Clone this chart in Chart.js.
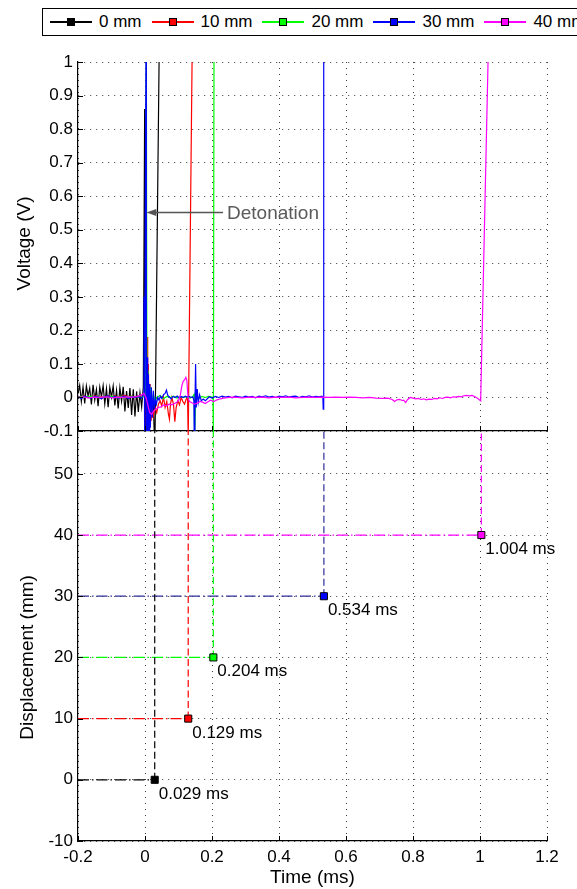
<!DOCTYPE html>
<html><head><meta charset="utf-8">
<script src="https://cdn.jsdelivr.net/npm/chart.js@4.4.0/dist/chart.umd.min.js"></script>
<style>
html,body{margin:0;padding:0;background:#fff;overflow:hidden;width:577px;height:889px;}
#wrap{position:relative;width:577px;height:889px;overflow:hidden;}
#c1{position:absolute;left:0;top:0;}
#c2{position:absolute;left:0;top:400px;}
#legend{position:absolute;left:42px;top:8px;height:28px;width:640px;border:1.3px solid #000;box-sizing:border-box;display:flex;align-items:center;padding-left:7px;font-family:'Liberation Sans',Arial,sans-serif;font-size:17px;color:#000;background:#fff;}
.item{display:flex;align-items:center;margin-right:10px;}
.ln{position:relative;width:42px;height:1.4px;}
.mk{position:absolute;left:17px;top:-3px;width:6px;height:6px;border:1px solid #000;box-sizing:content-box;}
.tx{margin-left:7px;white-space:nowrap;}
</style></head>
<body><div id="wrap">
<canvas id="c1" width="577" height="460"></canvas>
<canvas id="c2" width="577" height="489"></canvas>
<div id="legend"></div>
</div>
<script>
// ---------- data ----------
const seriesNames = ['0 mm','10 mm','20 mm','30 mm','40 mm'];
const seriesColors = ['#000000','#ff0000','#00ff00','#0000ff','#ff00ff'];
const guideColors = ['#000000','#ff0000','#00ff00','#2e2e96','#ff00ff'];

const voltTickValues = [-0.1,0,0.1,0.2,0.3,0.4,0.5,0.6,0.7,0.8,0.9,1];
const voltTickLabels = ['-0.1','0','0.1','0.2','0.3','0.4','0.5','0.6','0.7','0.8','0.9','1'];
const timeTickValues = [-0.2,0,0.2,0.4,0.6,0.8,1,1.2];
const timeTickLabels = ['-0.2','0','0.2','0.4','0.6','0.8','1','1.2'];
const dispTickValues = [-10,0,10,20,30,40,50];
const dispTickLabels = ['-10','0','10','20','30','40','50'];

// voltage traces (time in ms, voltage in V)
const t0mm = [-0.200,-0.195,-0.190,-0.185,-0.180,-0.175,-0.170,-0.165,-0.160,-0.155,-0.150,-0.145,-0.140,-0.135,-0.130,-0.125,-0.120,-0.115,-0.110,-0.105,-0.100,-0.095,-0.090,-0.085,-0.080,-0.075,-0.070,-0.065,-0.060,-0.055,-0.050,-0.045,-0.040,-0.035,-0.030,-0.025,-0.020,-0.015,-0.010,-0.005,
  -0.001,0.001,0.004,0.007,0.010,0.013,0.017,0.021,0.025,0.028,0.030,0.042,0.045];
const v0mm = [0.012,0.036,-0.012,0.031,-0.018,0.034,0.004,0.028,-0.021,0.038,-0.008,0.024,-0.026,0.031,0.002,0.035,-0.019,0.026,-0.029,0.030,0.001,0.034,-0.024,0.021,-0.033,0.029,-0.011,0.032,-0.042,0.019,-0.031,0.028,-0.052,0.024,-0.057,0.018,-0.043,0.014,-0.028,0.031,
  0.86,-0.12,0.12,-0.12,0.06,-0.09,0.03,-0.06,-0.02,-0.12,-0.11,1.0,1.15];

const t10mm = [-0.20,-0.19,-0.18,-0.17,-0.16,-0.15,-0.14,-0.13,-0.12,-0.11,-0.10,-0.09,-0.08,-0.07,-0.06,-0.05,-0.04,-0.03,-0.02,-0.01,0.000,
  0.002,0.004,0.006,0.008,0.010,0.012,0.015,0.018,0.022,0.025,0.030,0.035,0.040,0.045,0.050,0.055,0.060,0.065,0.070,0.073,0.076,0.080,0.085,0.089,0.093,0.098,0.103,0.108,0.113,0.118,0.123,0.127,0.129,0.141];
const v10mm = [0.003,0.001,0.004,0.000,0.002,0.005,0.001,0.003,0.000,0.004,0.002,0.005,0.001,0.003,0.006,0.002,0.004,0.001,0.003,0.005,0.004,
  0.26,-0.12,0.18,-0.12,0.10,-0.06,0.04,-0.07,-0.03,-0.055,-0.03,-0.045,-0.02,-0.01,-0.025,0.002,-0.03,-0.012,-0.05,-0.065,-0.02,0.0,-0.02,-0.072,-0.03,-0.01,-0.022,0.0,-0.012,-0.02,-0.005,0.0,-0.12,1.05];

const t20mm = [-0.20,-0.19,-0.18,-0.17,-0.16,-0.15,-0.14,-0.13,-0.12,-0.11,-0.10,-0.09,-0.08,-0.07,-0.06,-0.05,-0.04,-0.03,-0.02,-0.01,0.000,
  0.002,0.004,0.006,0.009,0.012,0.016,0.020,0.025,0.030,0.035,0.045,0.055,0.065,0.075,0.085,0.095,0.105,0.115,0.125,0.135,0.143,0.147,0.148,0.151,0.154,0.160,0.170,0.180,0.190,0.200,0.203,0.204,0.206];
const v20mm = [0.001,0.003,0.000,0.002,0.004,0.001,0.002,0.000,0.003,0.001,0.004,0.002,0.000,0.003,0.001,0.002,0.004,0.001,0.003,0.000,0.002,
  0.30,1.05,-0.12,0.08,-0.06,0.03,-0.03,0.01,-0.015,0.0,0.006,-0.004,0.003,0.0,0.004,-0.002,0.003,0.0,0.002,-0.002,0.004,0.01,-0.12,-0.02,0.005,-0.004,0.003,0.0,0.003,0.001,0.0,-0.12,1.05];

const t30mm = [-0.20,-0.19,-0.18,-0.17,-0.16,-0.15,-0.14,-0.13,-0.12,-0.11,-0.10,-0.09,-0.08,-0.07,-0.06,-0.05,-0.04,-0.03,-0.02,-0.01,
  -0.005,-0.003,-0.001,0.001,0.003,0.004,0.006,0.008,0.010,0.012,0.014,0.016,0.019,0.022,0.025,0.028,0.031,0.034,0.038,0.042,0.046,0.050,0.055,0.060,0.064,0.068,0.072,0.078,0.084,0.090,0.096,0.102,0.108,0.114,0.120,0.126,0.132,0.138,0.143,0.146,0.147,0.149,0.151,0.153,0.156,0.159,0.163,0.168,0.174,0.180,0.186,0.192,0.200,
  0.21,0.22,0.23,0.24,0.25,0.26,0.27,0.28,0.29,0.30,0.31,0.32,0.33,0.34,0.35,0.36,0.37,0.38,0.39,0.40,0.41,0.42,0.43,0.44,0.45,0.46,0.47,0.48,0.49,0.50,0.51,0.52,0.528,0.531,0.532,0.533,0.534];
const v30mm = [0.002,-0.003,0.004,0.000,-0.002,0.003,0.001,-0.004,0.002,0.005,-0.001,0.003,-0.002,0.001,0.004,-0.003,0.002,0.000,0.003,-0.002,
  0.01,0.30,-0.12,0.60,1.05,-0.12,0.12,-0.12,0.07,-0.11,0.04,-0.09,0.03,-0.06,0.02,-0.035,-0.005,-0.02,0.0,-0.008,0.004,-0.003,0.008,0.012,0.022,0.006,0.002,-0.004,0.003,0.0,0.004,-0.002,0.003,0.0,0.004,0.001,0.003,0.0,0.002,-0.01,-0.12,-0.03,0.10,-0.03,0.025,-0.015,0.008,-0.01,-0.005,-0.01,-0.004,0.002,-0.002,
  0.003,0.0,0.004,0.001,0.003,-0.001,0.004,0.002,0.0,0.004,0.001,0.003,-0.001,0.004,0.002,0.005,0.001,0.003,0.0,0.004,0.002,0.005,0.001,0.003,0.004,0.0,0.003,0.002,0.005,0.001,0.003,0.002,0.004,0.0,-0.035,-0.005,1.05];

const t40mm = [-0.200,-0.185,-0.170,-0.155,-0.140,-0.125,-0.110,-0.095,-0.080,-0.065,-0.050,-0.035,-0.020,-0.010,-0.003,0.003,0.008,0.014,0.020,0.026,0.032,0.040,0.048,0.056,0.064,0.072,0.080,0.088,0.096,0.102,0.106,0.110,0.114,0.118,0.122,0.125,0.127,0.129,0.133,0.140,0.148,0.156,0.164,0.172,0.180,0.188,0.196,0.205,0.215,0.225,0.235,
  0.25,0.27,0.29,0.31,0.33,0.35,0.37,0.39,0.41,0.43,0.45,0.47,0.49,0.51,0.53,0.55,0.57,0.59,0.61,0.63,0.65,0.67,0.69,0.71,0.725,0.738,0.745,0.752,0.760,0.768,0.772,0.778,0.784,0.792,0.800,0.808,0.816,0.824,0.832,0.840,0.848,0.856,0.864,0.872,0.880,0.888,0.896,0.904,0.912,0.920,0.928,0.936,0.944,0.952,0.960,0.968,0.976,0.984,0.992,0.998,1.002,1.024,1.030];
const v40mm = [0.0,0.002,-0.001,0.001,0.0,0.002,0.001,-0.001,0.001,0.0,0.002,0.001,0.004,0.008,0.012,0.0,-0.02,-0.045,-0.05,-0.04,-0.035,-0.03,-0.028,-0.022,-0.025,-0.02,-0.022,-0.018,-0.014,-0.005,0.01,0.035,0.048,0.052,0.06,0.05,0.02,-0.005,-0.012,-0.016,-0.02,-0.017,-0.012,-0.014,-0.018,-0.013,-0.008,-0.012,-0.007,-0.004,-0.002,
  0.0,0.001,-0.001,0.001,0.0,0.001,-0.001,0.001,0.0,0.001,-0.001,0.0,0.001,0.0,0.001,0.0,0.001,0.0,0.001,0.0,-0.001,0.0,-0.002,-0.003,-0.002,-0.006,-0.012,-0.007,-0.006,-0.009,-0.008,-0.015,-0.006,0.0,-0.002,-0.004,-0.003,-0.006,-0.004,-0.007,-0.005,-0.006,-0.003,-0.004,-0.001,-0.003,0.0,0.001,-0.001,0.002,0.001,0.003,0.002,0.005,0.006,0.005,0.006,0.003,-0.002,-0.007,-0.01,1.0,1.1];

const traceTimes = [t0mm,t10mm,t20mm,t30mm,t40mm];
const traceVolts = [v0mm,v10mm,v20mm,v30mm,v40mm];

// arrival times (ms) vs sensor displacement (mm)
const arrivalTimes = [0.029,0.129,0.204,0.534,1.004];
const displacements = [0,10,20,30,40];
const arrivalLabels = ['0.029 ms','0.129 ms','0.204 ms','0.534 ms','1.004 ms'];

// annotation
const detonationText = 'Detonation';
const detonationArrowFrom = [0.233,0.552];
const detonationArrowTo = [0.004,0.552];

// ---------- styling / build ----------
const FONT = "'Liberation Sans', Arial, Helvetica, sans-serif";
Chart.defaults.font.family = FONT;
Chart.defaults.color = '#000';

// legend
const lg = document.getElementById('legend');
seriesNames.forEach((n,i)=>{
  const it = document.createElement('div'); it.className='item';
  it.innerHTML = '<span class="ln" style="background:'+seriesColors[i]+'"><span class="mk" style="background:'+seriesColors[i]+'"></span></span><span class="tx">'+n+'</span>';
  lg.appendChild(it);
});

const fixTicks = vals => s => { s.ticks = vals.map(v=>({value:v})); };
const GRID = {color:'#3a3a3a', lineWidth:1, drawTicks:false};
const BORDER = {display:true, color:'#000', width:1.2, dash:[1,5]};

const innerTicks = {id:'innerTicks', afterDraw(chart){
  const {ctx, chartArea:a} = chart; const xs = chart.scales.x, ys = chart.scales.y;
  ctx.save(); ctx.strokeStyle='#000'; ctx.lineWidth=1; ctx.setLineDash([]); ctx.beginPath();
  ys.ticks.forEach(t=>{const p=Math.round(ys.getPixelForValue(t.value))+0.5; ctx.moveTo(a.left,p); ctx.lineTo(a.left+5,p);});
  xs.ticks.forEach(t=>{const p=Math.round(xs.getPixelForValue(t.value))+0.5; ctx.moveTo(p,a.bottom); ctx.lineTo(p,a.bottom-5);});
  ctx.stroke(); ctx.restore();
}};

function yTitle(text, cx, centerFn){
  return {id:'yTitle'+text.length, afterDraw(chart){
    const ctx = chart.ctx; const cy = centerFn(chart);
    ctx.save(); ctx.translate(cx, cy); ctx.rotate(-Math.PI/2);
    ctx.font = '19px '+FONT; ctx.fillStyle='#000'; ctx.textAlign='center'; ctx.textBaseline='middle';
    ctx.fillText(text,0,0); ctx.restore();
  }};
}

const annot = {id:'annot', afterDatasetsDraw(chart){
  const {ctx, scales:{x,y}} = chart;
  const x1 = x.getPixelForValue(detonationArrowFrom[0]), x0 = x.getPixelForValue(detonationArrowTo[0]);
  const yy = Math.round(y.getPixelForValue(detonationArrowFrom[1]))+0.5;
  ctx.save(); ctx.strokeStyle='#555'; ctx.fillStyle='#555'; ctx.lineWidth=1.3;
  ctx.beginPath(); ctx.moveTo(x1,yy); ctx.lineTo(x0+8,yy); ctx.stroke();
  ctx.beginPath(); ctx.moveTo(x0,yy); ctx.lineTo(x0+10,yy-3.5); ctx.lineTo(x0+10,yy+3.5); ctx.closePath(); ctx.fill();
  ctx.font='19px '+FONT; ctx.fillStyle='#5a5a5a'; ctx.textBaseline='middle'; ctx.textAlign='left';
  ctx.fillText(detonationText, x1+4, yy+1);
  ctx.restore();
}};

const topDatasets = seriesNames.map((n,i)=>({
  label:n, data: traceTimes[i].map((t,k)=>({x:t,y:traceVolts[i][k]})),
  borderColor: seriesColors[i], backgroundColor: seriesColors[i], borderWidth:1.2,
  pointRadius:0, tension:0, showLine:true, order: 5-i
}));

new Chart(document.getElementById('c1'), {
  type:'scatter',
  data:{datasets: topDatasets},
  options:{
    responsive:false, animation:false,
    layout:{padding:{left:0,right:30,top:62,bottom:0}},
    plugins:{legend:{display:false}, tooltip:{enabled:false}},
    scales:{
      x:{type:'linear', min:-0.2, max:1.2, afterBuildTicks: fixTicks(timeTickValues),
         ticks:{display:false}, grid:GRID, border:BORDER, afterFit: s=>{s.height=29;}},
      y:{type:'linear', min:-0.1, max:1, afterBuildTicks: fixTicks(voltTickValues),
         ticks:{callback:(v,i)=>voltTickLabels[i], font:{size:17}, color:'#000', padding:5, autoSkip:false},
         grid:GRID, border:BORDER, afterFit: s=>{s.width=78;}}
    }
  },
  plugins:[innerTicks, annot, yTitle('Voltage (V)', 25, ch=>(ch.chartArea.top+ch.chartArea.bottom)/2 - 3)]
});

const DMAX = 57;
const botDatasets = [];
displacements.forEach((d,i)=>{
  botDatasets.push({data:[{x:-0.2,y:d},{x:arrivalTimes[i],y:d}], borderColor:guideColors[i], borderWidth:1.2, borderDash:[11,3,1.5,3], pointRadius:0, showLine:true, order:10});
  botDatasets.push({data:[{x:arrivalTimes[i],y:d},{x:arrivalTimes[i],y:DMAX}], borderColor:guideColors[i], borderWidth:1.2, borderDash:[7,3.5], pointRadius:0, showLine:true, order:10});
  botDatasets.push({data:[{x:arrivalTimes[i],y:d}], pointStyle:'rect', pointRadius:5, backgroundColor:seriesColors[i], borderColor:'#000', borderWidth:1, showLine:false, order:1});
});

const arrLabels = {id:'arrLabels', afterDatasetsDraw(chart){
  const {ctx, scales:{x,y}} = chart;
  ctx.save(); ctx.font='17px '+FONT; ctx.fillStyle='#000'; ctx.textAlign='left'; ctx.textBaseline='alphabetic';
  arrivalTimes.forEach((t,i)=>{ ctx.fillText(arrivalLabels[i], x.getPixelForValue(t)+4, y.getPixelForValue(displacements[i])+19); });
  ctx.restore();
}};

new Chart(document.getElementById('c2'), {
  type:'scatter',
  data:{datasets: botDatasets},
  options:{
    responsive:false, animation:false,
    layout:{padding:{left:0,right:30,top:31,bottom:0}},
    plugins:{legend:{display:false}, tooltip:{enabled:false}},
    scales:{
      x:{type:'linear', min:-0.2, max:1.2, afterBuildTicks: fixTicks(timeTickValues),
         ticks:{callback:(v,i)=>timeTickLabels[i], font:{size:17}, color:'#000', padding:6, autoSkip:false, maxRotation:0},
         grid:GRID, border:BORDER,
         title:{display:true, text:'Time (ms)', font:{size:19}, color:'#000', padding:{top:0,bottom:0}},
         afterFit: s=>{s.height=48;}},
      y:{type:'linear', min:-10, max:DMAX, afterBuildTicks: fixTicks(dispTickValues),
         ticks:{callback:(v,i)=>dispTickLabels[i], font:{size:17}, color:'#000', padding:5, autoSkip:false},
         grid:GRID, border:BORDER, afterFit: s=>{s.width=78;}}
    }
  },
  plugins:[innerTicks, arrLabels, yTitle('Displacement (mm)', 28, ch=>(ch.scales.y.getPixelForValue(50)+ch.scales.y.getPixelForValue(-10))/2)]
});
</script>
</body></html>
